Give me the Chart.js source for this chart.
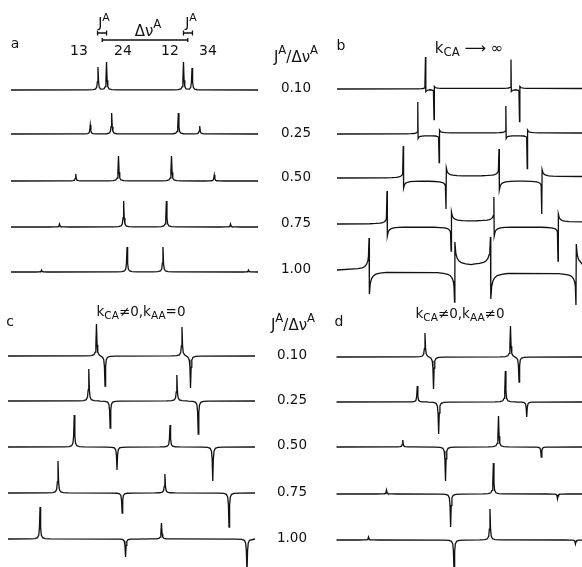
<!DOCTYPE html>
<html><head><meta charset="utf-8">
<script src="https://cdn.jsdelivr.net/npm/chart.js@4/dist/chart.umd.min.js"></script>
<style>
html,body{margin:0;padding:0;background:#fff;}
body{width:582px;height:567px;position:relative;overflow:hidden;font-family:"DejaVu Sans",sans-serif;color:#111;}
canvas{position:absolute;}
.t{position:absolute;white-space:nowrap;font-size:13px;line-height:1;transform:translate(-50%,-50%);}
.t sub{font-size:78%;vertical-align:-0.3em;}
.t sup{font-size:78%;vertical-align:0.6em;}
</style></head><body>
<canvas id="pa" width="291" height="305" style="left:0;top:0"></canvas>
<canvas id="pb" width="291" height="305" style="left:291px;top:0"></canvas>
<canvas id="pc" width="291" height="272" style="left:0;top:295px"></canvas>
<canvas id="pd" width="291" height="272" style="left:291px;top:295px"></canvas>
<div id="labels"></div>
<script>
// ---------------- data ----------------
const ratioLabels = ["0.10", "0.25", "0.50", "0.75", "1.00"];   // J^A / Δν^A
const lineLabels = ["13", "24", "12", "34"];
const deltaNu = 1.0;   // Δν^A (unit of the frequency axis)
const couplingJ = 0.10; // J^A for the top trace of panel a
// line frequencies, units of Δν^A from the centre of the pattern
const freq010 = [-0.55, -0.45, 0.45, 0.55];
const freq025 = [-0.64, -0.39, 0.39, 0.64];
const freq050 = [-0.81, -0.31, 0.31, 0.81];
const freq075 = [-1.00, -0.25, 0.25, 1.00];
const freq100 = [-1.21, -0.21, 0.21, 1.21];
// peak intensities (signed, arbitrary units), one row per J/Δν value
const ampA = [[23, 28, 28, 22], [9, 21, 21, 8], [7, 25, 25, 6], [3, 26, 26, 3], [2, 25, 25, 2]];
const ampB = [[32, -30, 29, -32], [32, -27, 27, -33], [32, -28, 27, -33], [33, -24, 24, -34], [32, -30, 28, -33]];
const dispB = [[2, 2, 2, 2], [3, 3, 3, 3], [7, 8, 9, 7], [9, 9, 9, 8], [22, 23, 26, 22]];
const levelB = [[-0.5, 0.5, -0.5, 0.5], [-1.5, 1, -1.5, 1], [-3, 2, -3, 1.5], [-3, 3, -3, 2], [-2, 5, -3, 4]];
const ampC = [[32, -30, 29, -32], [32, -27, 26, -33], [32, -23, 22, -34], [32, -20, 19, -34], [32, -18, 16, -34]];
const ampD = [[24, -32, 31, -25], [16, -32, 31, -15], [7, -34, 31, -10], [4, -33, 31, -5], [3, -33, 31, -4]];
const zeros = [[0, 0, 0, 0], [0, 0, 0, 0], [0, 0, 0, 0], [0, 0, 0, 0], [0, 0, 0, 0]];
// spectral window of each panel (units of Δν^A)
const winA = [-1.567, 1.322];
const winB = [-1.585, 1.30];
const winC = [-1.585, 1.304];
const winD = [-1.585, 1.30];

// ---------------- layout / style ----------------
const PPU = 85.5;                       // pixels per Δν^A
const baseA = [90, 134, 181, 227, 272];
const baseB = [89, 134, 178, 224, 270];
const baseC = [356, 401, 447, 493, 539];
const baseD = [357, 402, 447, 494, 540];
// line-shape template (style of each spike)
const FL_DX = [0.12, 0.06, 0.03, 0.015, 0.007];
const FL_F = [0.004, 0.012, 0.04, 0.12, 0.35];
const TL_DX = [0.2, 0.13, 0.08, 0.05, 0.03, 0.015, 0.007];
const TL_F = [0.03, 0.06, 0.1, 0.16, 0.25, 0.4, 0.6];
const TR_DX = [0.004, 0.015, 0.03, 0.05, 0.08, 0.13, 0.2];
const TR_F = [1, 0.5, 0.3, 0.18, 0.1, 0.05, 0.02];

const freqs = [freq010, freq025, freq050, freq075, freq100];

function buildTrace(f, h, g, lv, win) {
  const pts = [{x: win[0], y: 0}];
  for (let i = 0; i < f.length; i++) {
    const prev = i ? lv[i - 1] : 0, next = lv[i];
    const s = Math.sign(h[i]);
    const leftGap = f[i] - (i ? f[i - 1] : win[0]);
    const rightGap = (i < f.length - 1 ? f[i + 1] : win[1]) - f[i];
    if (g[i] > 0) {
      TL_DX.forEach((dx, k) => { if (dx < leftGap / 2) pts.push({x: f[i] - dx, y: prev + s * g[i] * TL_F[k]}); });
    } else {
      FL_DX.forEach((dx, k) => { if (dx < leftGap / 2) pts.push({x: f[i] - dx, y: prev + h[i] * FL_F[k]}); });
    }
    pts.push({x: f[i], y: prev + h[i]});
    if (g[i] > 0) {
      TR_DX.forEach((dx, k) => { if (dx < rightGap / 2) pts.push({x: f[i] + dx, y: next - s * g[i] * TR_F[k]}); });
    } else {
      for (let k = FL_DX.length - 1; k >= 0; k--) {
        if (FL_DX[k] < rightGap / 2) pts.push({x: f[i] + FL_DX[k], y: next + h[i] * FL_F[k]});
      }
    }
  }
  pts.push({x: win[1], y: lv[lv.length - 1]});
  return pts;
}

function makePanel(id, left, top, w, hgt, cx, amps, disp, levels, bases, win, plugins) {
  const datasets = freqs.map((f, i) => ({
    data: buildTrace(f, amps[i], disp[i], levels[i], win).map(p => ({x: p.x, y: bases[i] - p.y})),
    borderColor: '#111', borderWidth: 1.3, pointRadius: 0, tension: 0, fill: false, clip: false
  }));
  return new Chart(document.getElementById(id), {
    type: 'line',
    data: {datasets},
    options: {
      responsive: false, animation: false, devicePixelRatio: 1,
      layout: {padding: 0},
      plugins: {legend: {display: false}, tooltip: {enabled: false}},
      scales: {
        x: {type: 'linear', display: false, min: (left - cx) / PPU, max: (left + w - cx) / PPU},
        y: {type: 'linear', display: false, reverse: true, min: top, max: top + hgt}
      }
    },
    plugins: plugins || []
  });
}

const bracketPlugin = {
  id: 'brackets',
  afterDatasetsDraw(chart) {
    const ctx = chart.ctx, xs = chart.scales.x;
    const X = v => xs.getPixelForValue(v);
    ctx.save();
    ctx.strokeStyle = '#111'; ctx.lineWidth = 1.3;
    function hbar(x1, x2, y, t) {
      ctx.beginPath();
      ctx.moveTo(x1, y); ctx.lineTo(x2, y);
      ctx.moveTo(x1, y - t); ctx.lineTo(x1, y + t);
      ctx.moveTo(x2, y - t); ctx.lineTo(x2, y + t);
      ctx.stroke();
    }
    hbar(X(-deltaNu / 2 - couplingJ / 2 - 0.005), X(-deltaNu / 2 + couplingJ / 2), 33, 2.5);
    hbar(X(-deltaNu / 2), X(deltaNu / 2), 40, 2);
    hbar(X(deltaNu / 2 - couplingJ / 2), X(deltaNu / 2 + couplingJ / 2 + 0.005), 33, 2.5);
    ctx.restore();
  }
};

makePanel('pa', 0, 0, 291, 305, 145, ampA, zeros, zeros, baseA, winA, [bracketPlugin]);
makePanel('pb', 291, 0, 291, 305, 472.5, ampB, dispB, levelB, baseB, winB);
makePanel('pc', 0, 295, 291, 272, 143.5, ampC, zeros, zeros, baseC, winC);
makePanel('pd', 291, 295, 291, 272, 472, ampD, zeros, zeros, baseD, winD);

// ---------------- text ----------------
const L = document.getElementById('labels');
function txt(html, x, y, size) {
  const d = document.createElement('div');
  d.className = 't'; d.innerHTML = html;
  d.style.left = x + 'px'; d.style.top = y + 'px';
  if (size) d.style.fontSize = size + 'px';
  L.appendChild(d);
}
txt('a', 15, 43, 14); txt('b', 341, 45, 14); txt('c', 10, 321, 14); txt('d', 339, 321, 14);
txt('J<sup>A</sup>', 104, 21, 14); txt('J<sup>A</sup>', 191, 21, 14); txt('Δν<sup>A</sup>', 148, 29, 15);
[79, 123, 170, 208].forEach((x, i) => txt(lineLabels[i], x, 50, 14));
txt('J<sup>A</sup>/Δν<sup>A</sup>', 296, 55, 15);
txt('J<sup>A</sup>/Δν<sup>A</sup>', 293, 323, 15);
ratioLabels.forEach((r, i) => txt(r, 296, baseB[i] - 1, 13.5));
ratioLabels.forEach((r, i) => txt(r, 292, baseD[i] - 2, 13.5));
txt('k<sub>CA</sub> ⟶ ∞', 469, 50, 15);
txt('k<sub>CA</sub>≠0,k<sub>AA</sub>=0', 141, 313, 13.5);
txt('k<sub>CA</sub>≠0,k<sub>AA</sub>≠0', 460, 315, 13.5);
</script>
</body></html>
